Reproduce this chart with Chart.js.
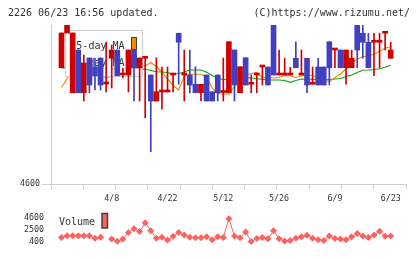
<!DOCTYPE html>
<html>
<head>
<meta charset="utf-8">
<script src="https://cdn.jsdelivr.net/npm/chart.js@4"></script>
<style>
  html, body { margin: 0; padding: 0; background: #fff; }
  #wrap { position: relative; width: 420px; height: 259px; }
  canvas { position: absolute; left: 0; }
</style>
</head>
<body>
<div id="wrap">
  <canvas id="priceChart" width="420" height="204" style="top:0"></canvas>
  <canvas id="volumeChart" width="420" height="55" style="top:204px"></canvas>
</div>
<script>
// trading days shown on the chart
var dates = ['3/26','3/27','3/28','3/31','4/1','4/2','4/3','4/4','4/7','4/8',
  '4/9','4/10','4/11','4/14','4/15','4/16','4/17','4/18','4/21','4/22',
  '4/23','4/24','4/25','4/28','4/30','5/1','5/2','5/7','5/8','5/12',
  '5/13','5/14','5/15','5/16','5/19','5/20','5/21','5/22','5/23','5/26',
  '5/27','5/28','5/29','5/30','6/2','6/3','6/4','6/5','6/6','6/9',
  '6/10','6/11','6/12','6/13','6/16','6/17','6/18','6/19','6/20','6/23'];

var opens  = [5065,5204,4965,5136,4965,5104,5069,5104,5000,5103,
  5136,5036,5036,5136,5064,5103,5036,4932,4968,4968,
  5036,5203,5036,5036,4999,4965,5036,4969,5036,4966,
  4965,5136,4965,5105,4999,5036,5068,5068,5256,5036,
  5036,5036,5103,5036,5103,4999,5068,5068,5169,5136,
  5136,5065,5065,5256,5203,5167,5167,5167,5203,5103];
var highs  = [5204,5256,5204,5136,5116,5104,5104,5104,5168,5156,
  5136,5064,5136,5136,5104,5103,5036,5105,5068,5068,
  5036,5203,5136,5136,5069,4999,5036,4969,5036,5104,
  5169,5136,5069,5105,5036,5036,5068,5068,5256,5136,
  5103,5067,5169,5136,5103,5068,5103,5068,5169,5136,
  5136,5136,5136,5256,5236,5203,5203,5203,5203,5167];
var lows   = [5065,5204,4965,4965,4932,4965,4976,4976,4968,4984,
  5033,5024,4968,4932,4932,4865,4729,4932,4899,4968,
  4968,4999,4932,4964,4965,4932,4932,4932,4932,4932,
  4965,4932,4965,4996,4965,4965,4996,4996,5036,5036,
  5036,5036,5065,5036,4965,4999,4996,4996,4996,5065,
  5065,4999,5065,5065,5103,5065,5033,5065,5136,5103];
var closes = [5204,5256,5204,4965,5084,4996,5033,4996,5000,5136,
  5033,5036,5136,5064,5104,5103,4932,4969,4968,4968,
  5036,5167,5036,4996,4965,4999,4932,4932,4965,4966,
  5169,4996,5069,4996,4999,5036,5068,4996,5036,5036,
  5036,5036,5065,5036,4996,4999,4996,4996,5065,5136,
  5065,5136,5103,5136,5167,5065,5167,5167,5203,5136];

var ma5 = [4986,5022,5056,5088,5116,5096,5064,5040,5024,5032,
  5040,5040,5068,5081,5075,5072,5086,5070,5048,5020,
  4994,4976,5032,5039,5039,5039,5028,4984,4962,4960,
  4959,4990,5020,5034,5042,5045,5026,5026,5024,5026,
  5034,5033,5026,5032,5037,5033,5026,5016,5010,5026,
  5040,5061,5083,5100,5109,5112,5120,5130,5144,5149];
var ma25 = [5064,5064,5063,5063,5062,5062,5061,5061,5060,5060,
  5060,5059,5059,5059,5058,5059,5054,5049,5048,5046,
  5039,5042,5048,5056,5056,5056,5047,5034,5022,5019,
  5016,5016,5023,5026,5024,5021,5019,5016,5016,5016,
  5014,5007,5014,5020,5019,5019,5018,5016,5018,5020,
  5022,5030,5036,5046,5055,5056,5058,5061,5067,5075];

var volumes = [1086,1424,1424,1424,1424,1424,950,1150,null,850,
  430,850,2007,2690,2180,3780,2345,983,1150,640,
  1320,2007,1560,1150,1045,1045,1250,707,1253,1083,
  4498,1390,1049,2108,370,912,1083,878,2346,878,
  468,571,981,1253,1493,981,707,571,1390,912,
  810,707,1253,1834,1390,1083,1561,2244,1322,1390];

var dateTicks = [9, 19, 29, 39, 49, 59];
var priceTicks = [4600];
var volumeTicks = [400, 2500, 4600];

var RED = '#d00000', BLUE = '#4040c0', ORANGE = '#f08a00', GREEN = '#10a010', VOL = '#ff6060';
var MONO = '"DejaVu Sans Mono", monospace';
var xMin = -1.88, xMax = 61.74;

function pts(arr) {
  return arr.map(function (v, i) { return { x: i, y: v }; });
}

var bodies = dates.map(function (d, i) { return { x: i, y: [opens[i], closes[i]] }; });
var wicks = dates.map(function (d, i) { return { x: i, y: [lows[i], highs[i]] }; });
var candleColors = dates.map(function (d, i) { return closes[i] >= opens[i] ? RED : BLUE; });

var priceDecor = {
  id: 'priceDecor',
  // legend box sits above the MA lines but below the candles
  beforeDatasetDraw: function (chart, args) {
    if (args.index !== 1) return;
    var ctx = chart.ctx;
    var ds = chart.data.datasets;
    ctx.save();
    ctx.fillStyle = '#fff';
    ctx.fillRect(65.5, 30.5, 77, 46);
    ctx.strokeStyle = '#d0d0d0';
    ctx.lineWidth = 1;
    ctx.strokeRect(65.5, 30.5, 77, 46);
    ctx.font = '10px ' + MONO;
    ctx.fillStyle = '#333';
    ctx.textAlign = 'right';
    ctx.fillText(ds[2].label, 124.5, 49);
    ctx.fillText(ds[3].label, 124.5, 65.5);
    ctx.strokeStyle = '#404040';
    ctx.fillStyle = ds[2].borderColor;
    ctx.fillRect(131.5, 37.5, 5, 12);
    ctx.strokeRect(131.5, 37.5, 5, 12);
    ctx.fillStyle = ds[3].borderColor;
    ctx.fillRect(131.5, 55.5, 5, 12);
    ctx.strokeRect(131.5, 55.5, 5, 12);
    ctx.restore();
  },
  afterDraw: function (chart) {
    var ctx = chart.ctx;
    ctx.save();
    ctx.font = '10px ' + MONO;
    ctx.fillStyle = '#333';
    ctx.textAlign = 'left';
    ctx.fillText('2226 06/23 16:56 updated.', 8, 16);
    ctx.textAlign = 'right';
    ctx.fillText('(C)https://www.rizumu.net/', 410, 16);
    ctx.restore();
  }
};

new Chart(document.getElementById('priceChart'), {
  type: 'bar',
  data: {
    datasets: [{
      label: 'candle',
      data: bodies,
      backgroundColor: candleColors,
      barThickness: 5,
      minBarLength: 2,
      grouped: false,
      order: 1,
      clip: 0
    }, {
      label: 'wick',
      data: wicks,
      backgroundColor: candleColors,
      barThickness: 1,
      grouped: false,
      order: 2,
      clip: 0
    }, {
      type: 'line',
      label: '5-day MA',
      data: pts(ma5),
      borderColor: ORANGE,
      borderWidth: 1.2,
      pointRadius: 0,
      order: 3,
      clip: 0
    }, {
      type: 'line',
      label: '25-day MA',
      data: pts(ma25),
      borderColor: GREEN,
      borderWidth: 1.2,
      pointRadius: 0,
      order: 3,
      clip: 0
    }]
  },
  options: {
    responsive: false,
    animation: false,
    devicePixelRatio: 1,
    layout: { padding: { left: 0, right: 14, top: 25, bottom: 0 } },
    plugins: { legend: { display: false }, tooltip: { enabled: false } },
    scales: {
      x: {
        type: 'linear', min: xMin, max: xMax, offset: false, position: 'bottom', weight: 1,
        afterFit: function (s) { s.height = 20; },
        afterBuildTicks: function (s) { s.ticks = dateTicks.map(function (v) { return { value: v }; }); },
        grid: { display: false, drawTicks: false, offset: false },
        border: { display: false },
        ticks: {
          autoSkip: false, maxRotation: 0, padding: 10, color: '#333',
          font: { family: MONO, size: 8.3 },
          callback: function (v) { return dates[v]; }
        }
      },
      x2: {
        type: 'linear', min: 0, max: 11, offset: false, position: 'bottom', weight: 0,
        afterFit: function (s) { s.height = 0; },
        ticks: { display: false, stepSize: 1 },
        grid: { display: true, drawOnChartArea: false, drawTicks: true, tickLength: 5, color: '#d0d0d0', offset: false },
        border: { display: true, color: '#d0d0d0' }
      },
      y: {
        type: 'linear', min: 4600, max: 5236,
        afterFit: function (s) { s.width = 51; },
        afterBuildTicks: function (s) { s.ticks = priceTicks.map(function (v) { return { value: v }; }); },
        grid: { drawOnChartArea: false, tickLength: 9, color: '#d0d0d0' },
        border: { color: '#d0d0d0' },
        ticks: {
          padding: 2, color: '#333', font: { family: MONO, size: 8.3 },
          callback: function (v) { return String(v); }
        }
      }
    }
  },
  plugins: [priceDecor]
});

var volumeDecor = {
  id: 'volumeDecor',
  afterDraw: function (chart) {
    var ctx = chart.ctx;
    ctx.save();
    ctx.font = '10px ' + MONO;
    ctx.fillStyle = '#333';
    ctx.textAlign = 'left';
    ctx.fillText(chart.data.datasets[0].label, 59, 21);
    ctx.fillStyle = VOL;
    ctx.strokeStyle = '#404040';
    ctx.lineWidth = 1.5;
    ctx.fillRect(102, 9.5, 5.5, 14.5);
    ctx.strokeRect(102, 9.5, 5.5, 14.5);
    ctx.restore();
  }
};

new Chart(document.getElementById('volumeChart'), {
  type: 'line',
  data: {
    datasets: [{
      label: 'Volume',
      data: pts(volumes),
      borderColor: VOL,
      backgroundColor: VOL,
      borderWidth: 1,
      pointStyle: 'rectRot',
      pointRadius: 3.5,
      pointBorderWidth: 0,
      spanGaps: false,
      clip: false
    }]
  },
  options: {
    responsive: false,
    animation: false,
    devicePixelRatio: 1,
    layout: { padding: { left: 0, right: 14, top: 0, bottom: 0 } },
    plugins: { legend: { display: false }, tooltip: { enabled: false } },
    scales: {
      x: { type: 'linear', min: xMin, max: xMax, display: false },
      y: {
        type: 'linear', min: -624, max: 5010,
        afterFit: function (s) { s.width = 51; },
        afterBuildTicks: function (s) { s.ticks = volumeTicks.map(function (v) { return { value: v }; }); },
        grid: { display: false, drawTicks: false },
        border: { display: false },
        ticks: {
          padding: 7, color: '#333', font: { family: MONO, size: 8.3 },
          callback: function (v) { return String(v); }
        }
      }
    }
  },
  plugins: [volumeDecor]
});
</script>
</body>
</html>
